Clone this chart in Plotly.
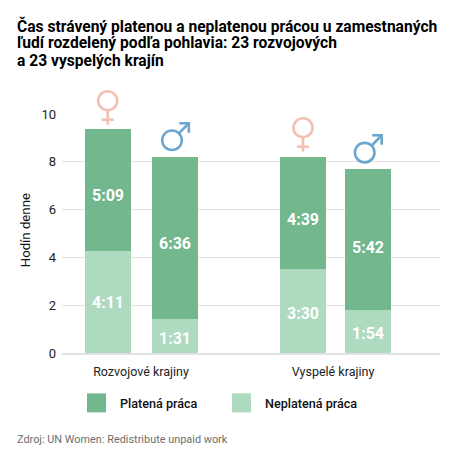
import plotly.graph_objects as go

OFF = 8  # the page adds this much around the figure
W, H = 474, 458
L, R, T, B = 62, 440, 114, 353.5
FONT = "Roboto"

title_lines = ["Čas strávený platenou a neplatenou prácou u zamestnaných",
               "ľudí rozdelený podľa pohlavia: 23 rozvojových",
               "a 23 vyspelých krajín"]
groups = ["Rozvojové krajiny", "Vyspelé krajiny"]
group_x = [141, 333]
bar_x = [107.7, 175.2, 302.7, 367.7]
paid = [5.13, 6.8, 4.72, 5.9]
unpaid = [4.25, 1.42, 3.5, 1.8]
paid_labels = ["5:09", "6:36", "4:39", "5:42"]
unpaid_labels = ["4:11", "1:31", "3:30", "1:54"]
paid_shift = [-5, -6, -7, -8]
unpaid_shift = [0, -2, -2, -2]
y_ticks = [0, 2, 4, 6, 8, 10]
PAID_C, UNPAID_C = "#73B78F", "#AEDABF"
PINK, BLUE = "#F3C0B2", "#6CA7D0"

def px(x): return (x - L) / (R - L)
def py(y): return (B - y) / (B - T)

fig = go.Figure()
fig.add_bar(x=bar_x, y=unpaid, name="Neplatená práca", width=46.3, marker=dict(color=UNPAID_C, line_width=0))
fig.add_bar(x=bar_x, y=paid, name="Platená práca", width=46.3, marker=dict(color=PAID_C, line_width=0))

shapes, anns = [], []

def line(x0, y0, x1, y1, c, w=2.6):
    shapes.append(dict(type="line", xref="paper", yref="paper", x0=px(x0), y0=py(y0), x1=px(x1), y1=py(y1),
                       line=dict(color=c, width=w)))
def circle(cx, cy, r, c, w=2.6):
    shapes.append(dict(type="circle", xref="paper", yref="paper", x0=px(cx-r), x1=px(cx+r), y0=py(cy-r), y1=py(cy+r),
                       line=dict(color=c, width=w), fillcolor="rgba(0,0,0,0)"))
def female(cx, cy, r):
    circle(cx, cy, r, PINK)
    line(cx, cy+r, cx, cy+r+14.5, PINK)
    line(cx-6, cy+r+9.5, cx+6, cy+r+9.5, PINK)
def male(cx, cy, r, tx, ty):
    circle(cx, cy, r, BLUE)
    line(cx+r*0.7, cy-r*0.7, tx, ty, BLUE)
    line(tx-9.5, ty, tx+1, ty, BLUE)
    line(tx, ty-1, tx, ty+9.5, BLUE)

female(107.7, 100.7, 9.5)
male(172, 140.3, 9.8, 188.8, 123.3)
female(303, 127.7, 9.5)
male(364.7, 152.7, 9.8, 381.7, 135.3)

# value labels
for i, x in enumerate(bar_x):
    common = dict(xref="x", yref="y", x=x, showarrow=False, font=dict(family=FONT, size=16, color="white", weight=700))
    anns.append(dict(y=unpaid[i] / 2, text=unpaid_labels[i], yshift=unpaid_shift[i], **common))
    anns.append(dict(y=unpaid[i] + paid[i] / 2, text=paid_labels[i], yshift=paid_shift[i], **common))

# legend
for x0, c, label, tx in [(87, PAID_C, "Platená práca", 117.5), (232, UNPAID_C, "Neplatená práca", 263)]:
    shapes.append(dict(type="rect", xref="paper", yref="paper", x0=px(x0), x1=px(x0+19), y0=py(394), y1=py(413),
                       fillcolor=c, line_width=0))
    anns.append(dict(xref="paper", yref="paper", x=px(tx), y=py(404), text=label, showarrow=False, xanchor="left",
                     yanchor="middle", font=dict(family=FONT, size=12.6, color="#111", weight=500)))

for i, t in enumerate(title_lines):
    anns.append(dict(xref="paper", yref="paper", x=px(15), y=py(26 + i * 17.2), text=t, showarrow=False, xanchor="left",
                     yanchor="middle", font=dict(family=FONT, size=15.6, color="#000", weight=700)))
anns.append(dict(xref="paper", yref="paper", x=px(15), y=py(440), text="Zdroj: UN Women: Redistribute unpaid work",
                 showarrow=False, xanchor="left", yanchor="middle", font=dict(family=FONT, size=10.9, color="#6e6e6e")))
anns.append(dict(xref="paper", yref="paper", x=px(25.5), y=py(231), text="Hodín denne", textangle=-90, showarrow=False,
                 xanchor="center", yanchor="middle", font=dict(family=FONT, size=13.2, color="#111")))

fig.update_layout(
    width=W-OFF, height=H-OFF, barmode="stack", showlegend=False, paper_bgcolor="white", plot_bgcolor="white",
    margin=dict(l=L-OFF, r=W-R, t=T-OFF, b=H-B, pad=0), font=dict(family=FONT, size=12.5, color="#222"),
    shapes=shapes, annotations=anns,
    xaxis=dict(range=[L, R], tickmode="array", tickvals=group_x, ticktext=groups, showgrid=False, zeroline=False,
               ticks="", showline=True, linecolor="#e2e2e2", linewidth=2, tickfont=dict(size=12.5, color="#222"), ticklabelstandoff=6),
    yaxis=dict(range=[0, 10], tickvals=y_ticks, gridcolor="#e2e2e2", gridwidth=1, zeroline=False, ticks="",
               tickfont=dict(size=13, color="#222"), ticklabelstandoff=5),
)
fig.write_html("out.html")
